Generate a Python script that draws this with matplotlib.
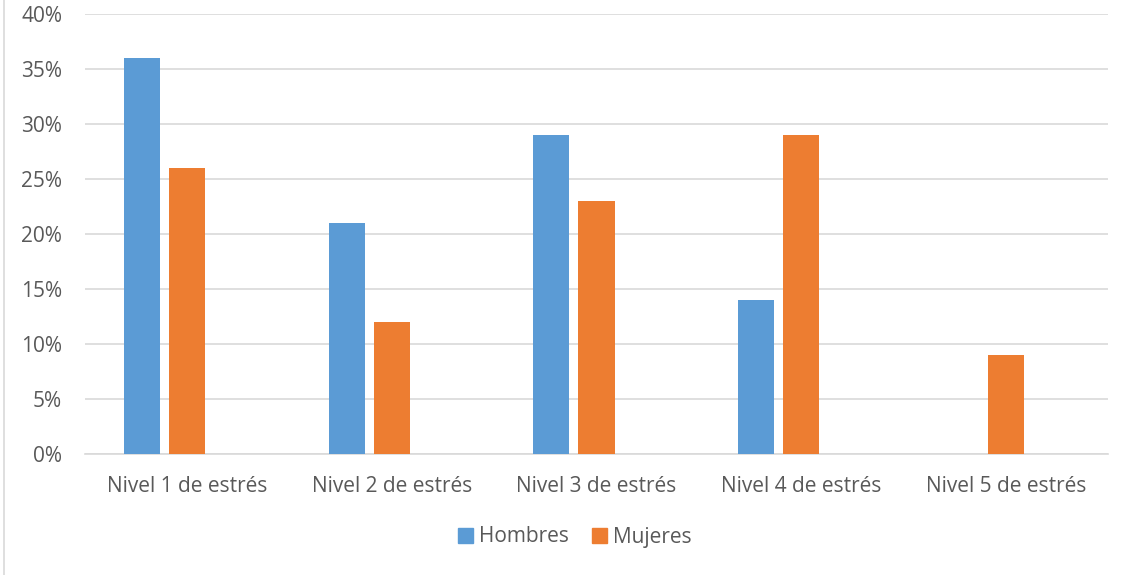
import matplotlib.pyplot as plt
import numpy as np
from matplotlib.lines import Line2D
from matplotlib.patches import Patch

# data (percent)
categorias = ["Nivel 1 de estrés", "Nivel 2 de estrés", "Nivel 3 de estrés",
              "Nivel 4 de estrés", "Nivel 5 de estrés"]
hombres = [36, 21, 29, 14, 0]
mujeres = [26, 12, 23, 29, 9]
ticks_y = [0, 5, 10, 15, 20, 25, 30, 35, 40]

azul = "#5B9BD5"
naranja = "#ED7D31"
gris_texto = "#595959"
gris_rejilla = "#D9D9D9"

plt.rcParams['font.family'] = ['Open Sans', 'DejaVu Sans']

fig = plt.figure(figsize=(11.37, 5.75), dpi=100)
W, H = 1137, 575
ax = fig.add_axes([85 / W, 1 - 454 / H, (1108 - 85) / W, (454 - 14) / H])

x = np.arange(len(categorias))
ancho = 0.176
desp = 0.22
ax.bar(x - desp, hombres, ancho, color=azul, zorder=3, label="Hombres")
ax.bar(x, mujeres, ancho, color=naranja, zorder=3, label="Mujeres")

ax.set_xlim(-0.5, len(categorias) - 0.5)
ax.set_ylim(0, 40)
ax.set_yticks(ticks_y)
ax.set_yticklabels([f"{t}%" for t in ticks_y])
ax.set_xticks(x)
ax.set_xticklabels(categorias)

ax.grid(axis='y', color=gris_rejilla, linewidth=1.2, zorder=0)
for s in ['top', 'right', 'left']:
    ax.spines[s].set_visible(False)
ax.spines['bottom'].set_color(gris_rejilla)
ax.spines['bottom'].set_linewidth(1.2)
ax.tick_params(axis='both', length=0, labelsize=15, colors=gris_texto)
ax.tick_params(axis='y', pad=16.5)
ax.tick_params(axis='x', pad=16)

handles = [Patch(color=azul, label="Hombres"), Patch(color=naranja, label="Mujeres")]
fig.legend(handles=handles, loc='center', bbox_to_anchor=(575 / W, 1 - 537 / H),
           ncol=2, frameon=False, fontsize=15, labelcolor=gris_texto,
           handlelength=0.7, handleheight=0.7, handletextpad=0.3, columnspacing=1.1)

# chart border on the left edge
fig.add_artist(Line2D([4 / W, 4 / W], [0, 1], color=gris_rejilla, linewidth=1.2))

fig.savefig("out.png", dpi=100)
